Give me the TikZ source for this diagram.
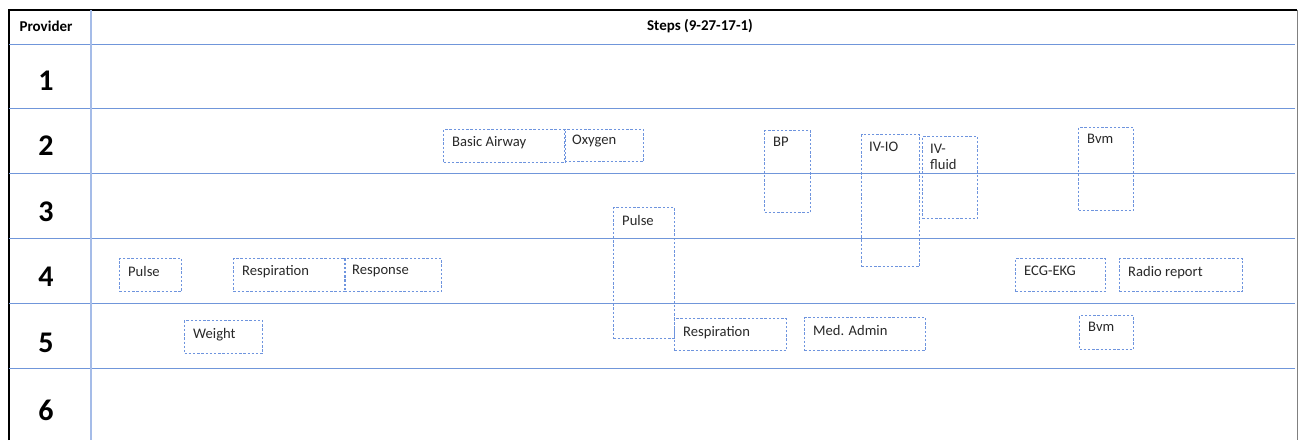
\documentclass[tikz,border=0pt]{standalone}
\usepackage{fontspec}
\setmainfont{Carlito}
\definecolor{gridblue}{RGB}{112,150,218}
\definecolor{divblue}{RGB}{165,188,232}
\definecolor{boxblue}{RGB}{110,148,222}
\definecolor{txt}{RGB}{40,40,40}
\begin{document}
\begin{tikzpicture}[x=1pt,y=-1pt,
  gridline/.style={draw=gridblue,line width=1pt},
  divline/.style={draw=divblue,line width=1.4pt},
  stepbox/.style={draw=boxblue,line width=1pt,dash pattern=on 2.4pt off 1.8pt,inner sep=0pt,anchor=north west},
  lbl/.style={inner sep=0pt,anchor=north west,font=\fontsize{14.6}{16}\selectfont,text=txt,align=left},
  rownum/.style={font=\fontsize{30}{32}\selectfont\bfseries},
  head/.style={font=\fontsize{15}{17}\selectfont\bfseries}]
\useasboundingbox (0,0) rectangle (1299,440);
% frame
\draw[line width=1.6pt,black] (9,440) -- (9,10) -- (1297,10);
\draw[line width=1pt,gray] (1297,10) -- (1297,440);
% horizontal grid
\foreach \yy in {44,108,173,238,303,368} \draw[gridline] (9,\yy) -- (1295,\yy);
\draw[divline] (91,10) -- (91,440);
% headers
\node[head] (hprov) at (46,26) {Provider};
\node[head] (hsteps) at (700,26) {Steps (9-27-17-1)};
\node[rownum] (r1) at (46,81) {1};
\node[rownum] (r2) at (46,146) {2};
\node[rownum] (r3) at (46,212) {3};
\node[rownum] (r4) at (46,277) {4};
\node[rownum] (r5) at (46,343) {5};
\node[rownum] (r6) at (46,410) {6};
% boxes
\node[stepbox,minimum width=122,minimum height=33] (ba) at (443,129) {};
\node[lbl] (tba) at ([shift={(9,7)}]ba.north west) {Basic Airway};
\node[stepbox,minimum width=79,minimum height=32] (ox) at (564,129) {};
\node[lbl] (tox) at ([shift={(8,6)}]ox.north west) {Oxygen};
\node[stepbox,minimum width=61,minimum height=131] (pu2) at (613,207) {};
\node[lbl] (tpu2) at ([shift={(9,8)}]pu2.north west) {Pulse};
\node[stepbox,minimum width=46,minimum height=82] (bp) at (764,130) {};
\node[lbl] (tbp) at ([shift={(9,7)}]bp.north west) {BP};
\node[stepbox,minimum width=58,minimum height=132] (ivio) at (861,134) {};
\node[lbl] (tivio) at ([shift={(8,8)}]ivio.north west) {IV-IO};
\node[stepbox,minimum width=55,minimum height=82] (ivf) at (922,136) {};
\node[lbl,align=left] (tivf) at ([shift={(8,8)}]ivf.north west) {IV-\\fluid};
\node[stepbox,minimum width=55,minimum height=83] (bvm1) at (1078,127) {};
\node[lbl] (tbvm1) at ([shift={(9,7)}]bvm1.north west) {Bvm};
\node[stepbox,minimum width=62,minimum height=33] (pu1) at (119,258) {};
\node[lbl] (tpu1) at ([shift={(9,8)}]pu1.north west) {Pulse};
\node[stepbox,minimum width=112,minimum height=33] (re1) at (233,258) {};
\node[lbl] (tre1) at ([shift={(9,7)}]re1.north west) {Respiration};
\node[stepbox,minimum width=97,minimum height=33] (rsp) at (344,258) {};
\node[lbl] (trsp) at ([shift={(8,7)}]rsp.north west) {Response};
\node[stepbox,minimum width=78,minimum height=33] (wt) at (184,320) {};
\node[lbl] (twt) at ([shift={(9,8)}]wt.north west) {Weight};
\node[stepbox,minimum width=112,minimum height=32] (re2) at (674,318) {};
\node[lbl] (tre2) at ([shift={(9,8)}]re2.north west) {Respiration};
\node[stepbox,minimum width=121,minimum height=33] (med) at (804,317) {};
\node[lbl] (tmed) at ([shift={(9,8)}]med.north west) {Med. Admin};
\node[stepbox,minimum width=90,minimum height=33] (ecg) at (1015,258) {};
\node[lbl] (tecg) at ([shift={(9,8)}]ecg.north west) {ECG-EKG};
\node[stepbox,minimum width=123,minimum height=33] (rad) at (1119,258) {};
\node[lbl] (trad) at ([shift={(9,8)}]rad.north west) {Radio report};
\node[stepbox,minimum width=54,minimum height=34] (bvm2) at (1079,315) {};
\node[lbl] (tbvm2) at ([shift={(9,7)}]bvm2.north west) {Bvm};
\end{tikzpicture}
\end{document}
